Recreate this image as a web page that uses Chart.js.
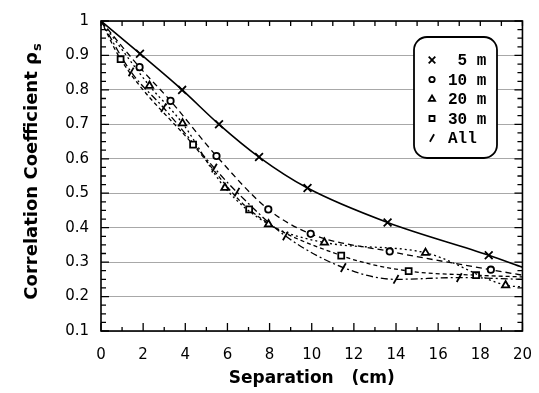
<!DOCTYPE html>
<html>
<head>
<meta charset="utf-8">
<script src="https://cdn.jsdelivr.net/npm/chart.js@4/dist/chart.umd.min.js"></script>
<style>
  html, body { margin: 0; padding: 0; background: #fff; }
</style>
</head>
<body>
<canvas id="chart" width="539" height="393"></canvas>
<script>
// separation (cm) and correlation, one pair of arrays per depth
const sep5 = [0, 1.85, 3.85, 5.6, 7.5, 9.8, 13.6, 18.4, 20];
const rho5 = [1, 0.905, 0.80, 0.70, 0.605, 0.515, 0.415, 0.32, 0.285];

const sep10 = [0, 1.83, 3.3, 5.48, 7.94, 9.95, 13.7, 18.5, 20];
const rho10 = [1, 0.866, 0.768, 0.608, 0.453, 0.382, 0.331, 0.278, 0.262];

const sep20 = [0, 2.3, 3.87, 5.88, 7.95, 10.6, 15.4, 19.2, 20];
const rho20 = [1, 0.812, 0.703, 0.516, 0.41, 0.357, 0.327, 0.233, 0.228];

const sep30 = [0, 0.93, 4.37, 7.03, 11.4, 14.6, 17.8, 20];
const rho30 = [1, 0.889, 0.641, 0.453, 0.319, 0.274, 0.262, 0.257];

const sepAll = [0, 1.43, 2.97, 5.38, 6.45, 8.75, 11.5, 14.0, 17.0, 20];
const rhoAll = [1, 0.852, 0.748, 0.573, 0.503, 0.376, 0.284, 0.25, 0.255, 0.25];

const seriesLabels = [" 5 m", "10 m", "20 m", "30 m", "All"];
const xTicks = { min: 0, max: 20, step: 2 };
const yTicks = { min: 0.1, max: 1, step: 0.1 };

const pairs = (xs, ys) => xs.map((x, i) => ({ x, y: ys[i] }));

// no marker at the shared start point or at the right edge
const hideEnds = r => ctx => {
  const raw = ctx.raw;
  return raw && (raw.x === 0 || raw.x === 20) ? 0 : r;
};

function series(label, xs, ys, style) {
  return {
    label,
    data: pairs(xs, ys),
    borderColor: "#000",
    backgroundColor: "#fff",
    pointBorderColor: "#000",
    pointBackgroundColor: "#fff",
    borderWidth: style.width || 1.3,
    borderDash: style.dash || [],
    pointStyle: style.point,
    pointRotation: style.rotation || 0,
    pointRadius: hideEnds(style.r),
    pointBorderWidth: 1.8,
    legendRadius: style.r,
    cubicInterpolationMode: "monotone",
    fill: false
  };
}

const datasets = [
  series(seriesLabels[0], sep5, rho5, { point: "crossRot", r: 5.5, width: 1.6 }),
  series(seriesLabels[1], sep10, rho10, { point: "circle", r: 3.2, dash: [6, 4] }),
  series(seriesLabels[2], sep20, rho20, { point: "triangle", r: 4.2, dash: [2, 3] }),
  series(seriesLabels[3], sep30, rho30, { point: "rect", r: 4.2, dash: [4, 3] }),
  series(seriesLabels[4], sepAll, rhoAll, { point: "line", r: 5, rotation: -60, dash: [7, 3, 2, 3] })
];

const frame = {
  id: "frame",
  afterDatasetsDraw(chart) {
    const { ctx, chartArea: a, scales } = chart;
    const xs = scales.x, ys = scales.y;
    ctx.save();
    ctx.strokeStyle = "#000";
    ctx.lineWidth = 1.6;
    ctx.strokeRect(a.left, a.top, a.right - a.left, a.bottom - a.top);

    // inward ticks on all four sides
    ctx.lineWidth = 1.3;
    ctx.beginPath();
    for (let v = xTicks.min; v <= xTicks.max; v += 1) {
      const px = xs.getPixelForValue(v);
      const len = v % 2 === 0 ? 8 : 4;
      ctx.moveTo(px, a.bottom); ctx.lineTo(px, a.bottom - len);
      ctx.moveTo(px, a.top); ctx.lineTo(px, a.top + 5);
    }
    for (let k = 0; k <= 36; k++) {
      const v = yTicks.min + k * 0.025;
      const py = ys.getPixelForValue(v);
      const len = k % 4 === 0 ? 8 : 5;
      ctx.moveTo(a.left, py); ctx.lineTo(a.left + len, py);
      ctx.moveTo(a.right, py); ctx.lineTo(a.right - len, py);
    }
    ctx.stroke();

    // legend box
    const bx = 414, by = 37, bw = 83, bh = 121, rad = 13;
    ctx.beginPath();
    ctx.roundRect(bx, by, bw, bh, rad);
    ctx.fillStyle = "#fff";
    ctx.fill();
    ctx.lineWidth = 1.8;
    ctx.stroke();

    const draw = Chart.helpers && Chart.helpers.drawPoint;
    ctx.font = "bold 16px 'Liberation Mono', 'DejaVu Sans Mono', monospace";
    ctx.textBaseline = "middle";
    ctx.textAlign = "left";
    chart.data.datasets.forEach((ds, i) => {
      const yy = 60 + i * 19.5;
      ctx.strokeStyle = "#000";
      ctx.fillStyle = "#fff";
      ctx.lineWidth = 1.8;
      ctx.setLineDash([]);
      if (draw) {
        draw(ctx, {
          pointStyle: ds.pointStyle,
          rotation: ds.pointRotation,
          radius: ds.legendRadius * 0.85,
          borderWidth: 1.8
        }, 432, yy);
      }
      ctx.fillStyle = "#000";
      ctx.fillText(ds.label, 448, yy + 1);
    });

    // y title with subscript
    ctx.translate(32, 172);
    ctx.rotate(-Math.PI / 2);
    const main = "Correlation Coefficient \u03C1";
    ctx.font = "bold 18px 'DejaVu Sans', sans-serif";
    const w1 = ctx.measureText(main).width;
    ctx.font = "bold 13px 'DejaVu Sans', sans-serif";
    const w2 = ctx.measureText("s").width;
    const start = -(w1 + w2) / 2;
    ctx.textAlign = "left";
    ctx.textBaseline = "middle";
    ctx.font = "bold 18px 'DejaVu Sans', sans-serif";
    ctx.fillText(main, start, 0);
    ctx.font = "bold 13px 'DejaVu Sans', sans-serif";
    ctx.fillText("s", start + w1 + 1, 6);
    ctx.restore();
  }
};

new Chart(document.getElementById("chart"), {
  type: "line",
  data: { datasets },
  options: {
    responsive: false,
    animation: false,
    layout: { padding: { left: 0, top: 18, right: 14, bottom: 0 } },
    plugins: { legend: { display: false }, tooltip: { enabled: false } },
    scales: {
      x: {
        type: "linear",
        min: xTicks.min,
        max: xTicks.max,
        afterFit: s => { s.height = 62; },
        grid: { display: false },
        border: { display: false },
        ticks: {
          stepSize: xTicks.step,
          color: "#000",
          padding: 7,
          maxRotation: 0,
          font: { family: "'DejaVu Sans', sans-serif", size: 15 }
        },
        title: {
          display: true,
          text: "Separation   (cm)",
          color: "#000",
          font: { family: "'DejaVu Sans', sans-serif", size: 17, weight: "bold" },
          padding: { top: 2, bottom: 4 }
        }
      },
      y: {
        type: "linear",
        min: yTicks.min,
        max: yTicks.max,
        afterFit: s => { s.width = 101; },
        grid: { color: "#a8a8a8", lineWidth: 1, drawTicks: false },
        border: { display: false },
        ticks: {
          stepSize: yTicks.step,
          color: "#000",
          padding: 12,
          font: { family: "'DejaVu Sans', sans-serif", size: 15 },
          callback: v => (Math.abs(v - 1) < 1e-9 ? "1" : Number(v).toFixed(1))
        }
      }
    }
  },
  plugins: [frame]
});
</script>
</body>
</html>
